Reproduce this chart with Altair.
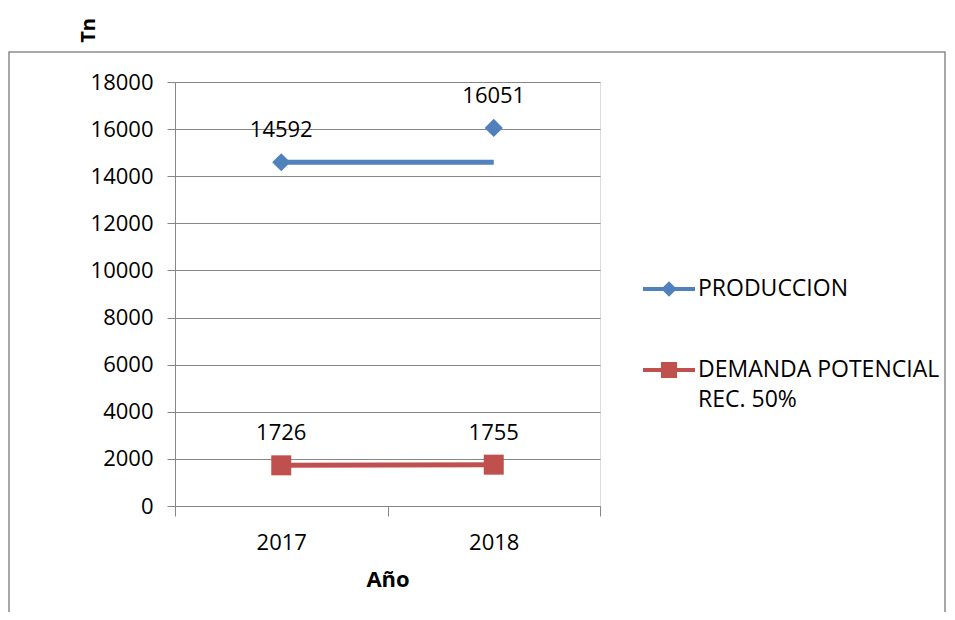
import altair as alt
import pandas as pd

years = ["2017", "2018"]
series_names = ["PRODUCCION", "DEMANDA POTENCIAL REC. 50%"]
produccion_points = [14592, 16051]
produccion_line = [14592, 14592]
demanda_points = [1726, 1755]
demanda_line = [1726, 1755]
y_ticks = list(range(0, 18001, 2000))

colors = ["#4F81BD", "#C0504D"]
FONT = "Open Sans"
GRID = "#868686"

pts = pd.DataFrame({
    "year": years * 2,
    "value": produccion_points + demanda_points,
    "series": [series_names[0]] * 2 + [series_names[1]] * 2,
})
lines = pd.DataFrame({
    "year": years * 2,
    "value": produccion_line + demanda_line,
    "series": [series_names[0]] * 2 + [series_names[1]] * 2,
})

x_enc = alt.X("year:N", title="Año", sort=years,
              scale=alt.Scale(paddingInner=0, paddingOuter=0),
              axis=alt.Axis(labelAngle=0, tickBand="extent", grid=False, tickSize=10,
                            labelPadding=16, titlePadding=16, domainColor=GRID,
                            tickColor=GRID, labelFont=FONT, labelFontSize=22,
                            labelColor="black", titleFont=FONT, titleFontSize=22,
                            titleFontWeight="bold", titleColor="black"))
y_enc = alt.Y("value:Q", title="Tn",
              scale=alt.Scale(domain=[0, 18000], nice=False),
              axis=alt.Axis(values=y_ticks, format="d", grid=True, gridColor=GRID,
                            gridWidth=1, tickSize=8, labelPadding=14, domainColor=GRID,
                            tickColor=GRID, labelFont=FONT, labelFontSize=22,
                            labelColor="black", titleFont=FONT, titleFontSize=20,
                            titleFontWeight="bold", titleColor="black",
                            titleAngle=270, titleX=-87, titleY=-52,
                            titleAlign="center", titleBaseline="middle"))

color_scale = alt.Scale(domain=series_names, range=colors)

diamond_leg = ("M-1,-0.08L1,-0.08L1,0.08L-1,0.08Z"
               "M0,-0.3L0.3,0L0,0.3L-0.3,0Z")
square_leg = ("M-1,-0.08L1,-0.08L1,0.08L-1,0.08Z"
              "M-0.31,-0.31L0.31,-0.31L0.31,0.31L-0.31,0.31Z")

legend = alt.Legend(
    title=None, orient="none", legendX=468, legendY=181,
    symbolSize=2704, symbolStrokeWidth=0, symbolOpacity=1,
    labelFont=FONT, labelFontSize=23, labelColor="black", labelLimit=400,
    labelOffset=3, rowPadding=43,
    labelExpr="datum.label == 'DEMANDA POTENCIAL REC. 50%' ? ['DEMANDA POTENCIAL', 'REC. 50%'] : datum.label",
)

line_layer = alt.Chart(lines).mark_line(strokeWidth=5).encode(
    x=x_enc, y=y_enc,
    color=alt.Color("series:N", scale=color_scale, legend=None),
    detail="series:N",
)

prod_pts = alt.Chart(pts).transform_filter(
    alt.datum.series == series_names[0]
).mark_point(filled=True, opacity=1, shape="diamond", size=330).encode(
    x=x_enc, y=y_enc,
    color=alt.Color("series:N", scale=color_scale, legend=None),
)
dem_pts = alt.Chart(pts).transform_filter(
    alt.datum.series == series_names[1]
).mark_point(filled=True, opacity=1, shape="square", size=400).encode(
    x=x_enc, y=y_enc,
    color=alt.Color("series:N", scale=color_scale, legend=None),
)

legend_layer = alt.Chart(pts).mark_point(
    filled=True, opacity=0, size=2704, strokeWidth=0
).encode(
    x=x_enc, y=y_enc,
    fill=alt.Fill("series:N", scale=alt.Scale(domain=series_names, range=colors), legend=legend),
    shape=alt.Shape("series:N", scale=alt.Scale(domain=series_names, range=[diamond_leg, square_leg]),
                    legend=legend),
)

text_layer = alt.Chart(pts).mark_text(dy=-32, font=FONT, fontSize=22, color="black").encode(
    x=x_enc, y=y_enc, text=alt.Text("value:Q", format="d"),
)

frame = alt.Chart(pd.DataFrame({"a": [0]})).mark_rect(
    fillOpacity=0, stroke="#8c8c8c", strokeWidth=1.5, clip=False
).encode(x=alt.value(-166), x2=alt.value(770), y=alt.value(-30), y2=alt.value(600))

chart = alt.layer(frame, legend_layer, line_layer, prod_pts, dem_pts, text_layer).properties(
    width=425, height=424,
    autosize=alt.AutoSizeParams(type="none"),
    padding={"left": 167, "top": 74, "right": 347, "bottom": 106},
).configure_view(stroke=None).configure(
    background="white",
    style={"guide-label": {"lineHeight": 30}},
)

chart.save("out.html", embed_options={"renderer": "svg", "actions": False})
